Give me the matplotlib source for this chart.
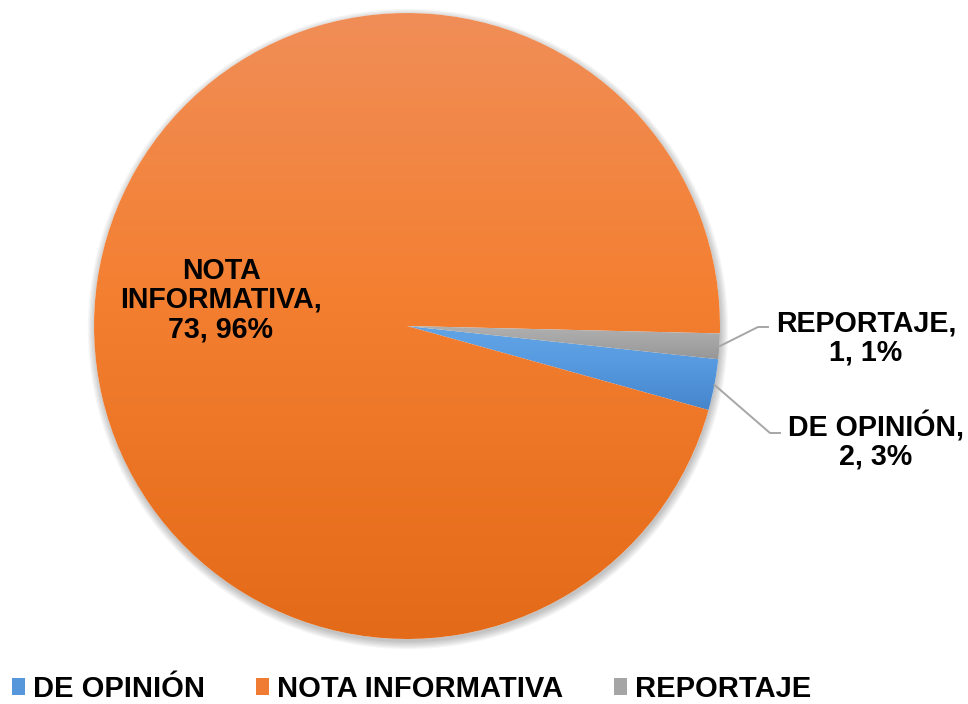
import numpy as np
import matplotlib
matplotlib.use('Agg')
import matplotlib.pyplot as plt
from matplotlib.patches import Patch, Circle
from matplotlib.colors import LinearSegmentedColormap

categories = ['DE OPINIÓN', 'NOTA INFORMATIVA', 'REPORTAJE']
values = [2, 73, 1]
percents = ['3%', '96%', '1%']

# top / middle / bottom gradient colours per slice
grad_cols = [['#62A5E6', '#579AE0', '#4585CB'],
             ['#F08E58', '#F47F31', '#E36A18'],
             ['#B0B0B0', '#A6A6A6', '#979797']]
legend_cols = ['#5597DA', '#F07C33', '#A5A5A5']

plt.rcParams['font.family'] = ['Liberation Sans', 'DejaVu Sans']
plt.rcParams['font.weight'] = 'bold'

W, H = 968, 704
fig = plt.figure(figsize=(W / 100, H / 100), dpi=100)
ax = fig.add_axes([0, 0, 1, 1])
ax.set_xlim(0, W)
ax.set_ylim(0, H)
ax.set_aspect('equal')
ax.axis('off')

cx, cy, r = 407, H - 326, 313

# soft shadow under the pie
for k in range(7):
    ax.add_patch(Circle((cx + 1, cy - 3), r + 1.2 * k, color='#000000',
                        alpha=0.035, lw=0, zorder=0))
ax.add_patch(Circle((cx, cy), r, color='white', lw=0, zorder=0.5))

wedges, _ = ax.pie(values, center=(cx, cy), radius=r, startangle=-6.1,
                   counterclock=False, frame=True,
                   wedgeprops=dict(linewidth=0, edgecolor='none'))
ax.axis('off')

for w, cols in zip(wedges, grad_cols):
    w.set_facecolor('none')
    bb = w.get_path().get_extents()
    cmap = LinearSegmentedColormap.from_list('g', list(zip([0, 0.45, 1], cols)))
    grad = np.linspace(0, 1, 256).reshape(-1, 1)
    im = ax.imshow(grad, cmap=cmap, aspect='auto', origin='upper',
                   extent=[bb.x0, bb.x1, bb.y0, bb.y1], zorder=1)
    im.set_clip_path(w)
ax.set_xlim(0, W)
ax.set_ylim(0, H)

# labels
lab_size = 20.6
ax.text(221, H - 300, 'NOTA\nINFORMATIVA,\n%d, %s' % (values[1], percents[1]),
        ha='center', va='center', multialignment='center', fontsize=lab_size,
        fontweight='bold', linespacing=1.06, zorder=3)

# leader lines from wedge mid-angles
def edge_point(w):
    a = np.deg2rad((w.theta1 + w.theta2) / 2)
    return cx + r * np.cos(a), cy + r * np.sin(a)

x0, y0 = edge_point(wedges[2])
ax.plot([x0, 758, 768], [y0, H - 327, H - 327], color='#A6A6A6', lw=1.4, zorder=2)
x0, y0 = edge_point(wedges[0])
ax.plot([x0, 770, 780], [y0, H - 433, H - 433], color='#A6A6A6', lw=1.4, zorder=2)

ax.text(866, H - 338, '%s,\n%d, %s' % ('REPORTAJE', values[2], percents[2]),
        ha='center', va='center', multialignment='center', fontsize=lab_size,
        fontweight='bold', linespacing=1.04, zorder=3)
ax.text(876, H - 441, '%s,\n%d, %s' % ('DE OPINIÓN', values[0], percents[0]),
        ha='center', va='center', multialignment='center', fontsize=lab_size,
        fontweight='bold', linespacing=1.04, zorder=3)

handles = [Patch(facecolor=c, edgecolor='none') for c in legend_cols]
leg = fig.legend(handles, categories, loc='center', ncol=3,
                 bbox_to_anchor=(412 / W, 1 - 689 / H), frameon=False,
                 prop=dict(size=21, weight='bold'), handlelength=0.42,
                 handleheight=0.55, handletextpad=0.3, columnspacing=1.75,
                 borderpad=0, borderaxespad=0)

fig.savefig('out.png', dpi=100)
